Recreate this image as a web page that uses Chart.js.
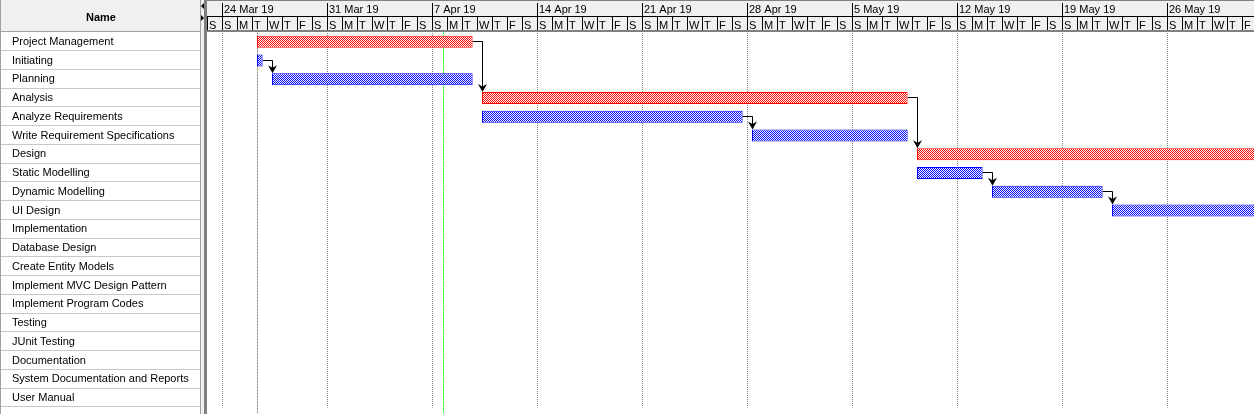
<!DOCTYPE html>
<html><head><meta charset="utf-8">
<script src="https://cdn.jsdelivr.net/npm/chart.js@4/dist/chart.umd.min.js"></script>
<style>html,body{margin:0;padding:0;background:#fff;overflow:hidden}canvas{display:block}</style>
</head><body>
<canvas id="c" width="1254" height="414"></canvas>
<script>
// ---- data ----
const taskNames = ['Project Management','Initiating','Planning','Analysis','Analyze Requirements',
  'Write Requirement Specifications','Design','Static Modelling','Dynamic Modelling','UI Design',
  'Implementation','Database Design','Create Entity Models','Implement MVC Design Pattern',
  'Implement Program Codes','Testing','JUnit Testing','Documentation',
  'System Documentation and Reports','User Manual'];
const taskStarts = ['2019-03-26T08:00','2019-03-26T08:00','2019-03-27T08:00','2019-04-10T08:00','2019-04-10T08:00',
  '2019-04-28T08:00','2019-05-09T08:00','2019-05-09T08:00','2019-05-14T08:00','2019-05-22T08:00',
  null,null,null,null,null,null,null,null,null,null];
const taskEnds = ['2019-04-09T17:00','2019-03-26T17:00','2019-04-09T17:00','2019-05-08T17:00','2019-04-27T17:00',
  '2019-05-08T17:00','2019-06-05T17:00','2019-05-13T17:00','2019-05-21T17:00','2019-06-05T17:00',
  null,null,null,null,null,null,null,null,null,null];
const summaryTasks = [true,false,false,true,false,false,true,false,false,false,
  true,false,false,false,false,true,false,true,false,false];
const links = [[0,3],[1,2],[4,5],[3,6],[7,8],[8,9]];
const timelineStart = '2019-03-23T00:00';
const timelineEnd = '2019-05-31T19:12';
const weekDates = ['2019-03-24T00:00','2019-03-31T00:00','2019-04-07T00:00','2019-04-14T00:00','2019-04-21T00:00',
  '2019-04-28T00:00','2019-05-05T00:00','2019-05-12T00:00','2019-05-19T00:00','2019-05-26T00:00'];
const weekLabels = ['24 Mar 19','31 Mar 19','7 Apr 19','14 Apr 19','21 Apr 19',
  '28 Apr 19','5 May 19','12 May 19','19 May 19','26 May 19'];
const weekdayLetters = ['S','M','T','W','T','F','S'];
const projectStartDate = '2019-03-26T08:00';
const statusDate = '2019-04-07T18:30';

// ---- helpers ----
const t0 = Date.parse(timelineStart + 'Z');
const toDay = s => (Date.parse(s + 'Z') - t0) / 864e5;
const maxDay = toDay(timelineEnd);
const dayValues = [];
for (let d = 0; d < Math.ceil(maxDay); d++) dayValues.push(d);
const dayLetter = d => weekdayLetters[new Date(t0 + d * 864e5).getUTCDay()];

const canvas = document.getElementById('c');
const ctx0 = canvas.getContext('2d');
function checker(color) {
  const c = document.createElement('canvas'); c.width = 2; c.height = 2;
  const g = c.getContext('2d');
  g.fillStyle = '#fff'; g.fillRect(0, 0, 2, 2);
  g.fillStyle = color; g.fillRect(0, 0, 1, 1); g.fillRect(1, 1, 1, 1);
  return ctx0.createPattern(c, 'repeat');
}
const redPat = checker('#ff0000');
const bluePat = checker('#0000ff');
const FONT = 'Liberation Sans';

const ganttFrame = {
  id: 'ganttFrame',
  beforeDraw(chart) {
    const ctx = chart.ctx;
    const {left, right} = chart.chartArea;
    const ys = chart.scales.y, xw = chart.scales.x, xd = chart.scales.x2;
    const W = chart.width, H = chart.height;
    const tableW = left - 7;
    ctx.save();
    ctx.fillStyle = '#fff'; ctx.fillRect(0, 0, W, H);
    // header backgrounds
    ctx.fillStyle = '#f0f0f0';
    ctx.fillRect(0, 0, tableW, 31);
    ctx.fillRect(left, 0, right - left, 30);
    // splitter
    ctx.fillRect(tableW, 0, 7, H);
    ctx.fillStyle = '#808080'; ctx.fillRect(tableW + 4, 0, 3, H);
    ctx.fillStyle = '#a0a0a0'; ctx.fillRect(tableW, 0, 1, H);
    // splitter arrows
    ctx.fillStyle = '#000';
    ctx.beginPath(); ctx.moveTo(tableW + 1, 6); ctx.lineTo(tableW + 4, 3); ctx.lineTo(tableW + 4, 9); ctx.closePath(); ctx.fill();
    ctx.beginPath(); ctx.moveTo(tableW + 4, 18); ctx.lineTo(tableW + 1, 15); ctx.lineTo(tableW + 1, 21); ctx.closePath(); ctx.fill();
    // table
    ctx.fillStyle = '#a0a0a0'; ctx.fillRect(0, 31, tableW, 1);
    ctx.fillRect(0, 0, 1, H);
    ctx.strokeStyle = '#c8c8c8'; ctx.lineWidth = 1;
    ctx.beginPath();
    for (let i = 1; i <= taskNames.length; i++) {
      const y = Math.round(ys.getPixelForValue(i) - 10.5) + 0.5;
      ctx.moveTo(1, y); ctx.lineTo(tableW, y);
    }
    ctx.stroke();
    ctx.fillStyle = '#000';
    ctx.font = 'bold 11px "' + FONT + '"';
    ctx.textAlign = 'center'; ctx.textBaseline = 'middle';
    ctx.fillText('Name', tableW / 2 + 1, 17.5);
    // timeline header lines
    ctx.fillStyle = '#808080'; ctx.fillRect(tableW + 4, 0, right - tableW - 4, 1);
    ctx.fillStyle = '#000'; ctx.fillRect(left, 16, right - left, 1);
    ctx.fillStyle = '#808080'; ctx.fillRect(tableW + 4, 30, right - tableW - 4, 2);
    ctx.strokeStyle = '#000';
    ctx.beginPath();
    xd.ticks.forEach(t => {
      const x = Math.round(xd.getPixelForValue(t.value)) + 0.5;
      ctx.moveTo(x, 17); ctx.lineTo(x, 30);
    });
    xw.ticks.forEach(t => {
      const x = Math.round(xw.getPixelForValue(t.value)) + 0.5;
      ctx.moveTo(x, 3); ctx.lineTo(x, 17);
    });
    ctx.stroke();
    ctx.restore();
  },
  beforeDatasetsDraw(chart) {
    const ctx = chart.ctx; const {top} = chart.chartArea;
    const xs = chart.scales.x;
    ctx.save(); ctx.lineWidth = 1;
    let x = Math.round(xs.getPixelForValue(toDay(projectStartDate))) + 0.5;
    ctx.strokeStyle = '#808080'; ctx.setLineDash([2, 1]);
    ctx.beginPath(); ctx.moveTo(x, top); ctx.lineTo(x, chart.height); ctx.stroke();
    x = Math.floor(xs.getPixelForValue(toDay(statusDate))) + 0.5;
    ctx.strokeStyle = '#00ff00'; ctx.setLineDash([2, 1]);
    ctx.beginPath(); ctx.moveTo(x, top); ctx.lineTo(x, chart.height); ctx.stroke();
    ctx.restore();
  },
  afterDatasetsDraw(chart) {
    const ctx = chart.ctx; const meta = chart.getDatasetMeta(0);
    ctx.save();
    ctx.beginPath(); ctx.rect(chart.chartArea.left, chart.chartArea.top, chart.chartArea.right - chart.chartArea.left, chart.height); ctx.clip();
    ctx.strokeStyle = '#000'; ctx.fillStyle = '#000'; ctx.lineWidth = 1;
    links.forEach(([a, b]) => {
      const ea = meta.data[a], eb = meta.data[b];
      const x0 = Math.max(ea.x, ea.base);
      const y0 = Math.round(ea.y) - 0.5;
      const x1 = Math.round(Math.min(eb.x, eb.base)) + 0.5;
      const tip = eb.y - eb.height / 2;
      ctx.beginPath(); ctx.moveTo(x0, y0); ctx.lineTo(x1, y0); ctx.lineTo(x1, tip - 4); ctx.stroke();
      ctx.beginPath();
      ctx.moveTo(x1 - 4.5, tip - 8); ctx.lineTo(x1, tip - 5.5); ctx.lineTo(x1 + 4.5, tip - 8); ctx.lineTo(x1, tip);
      ctx.closePath(); ctx.fill();
    });
    ctx.restore();
  }
};

new Chart(canvas, {
  type: 'bar',
  data: {
    labels: taskNames,
    datasets: [{
      data: taskStarts.map((s, i) => (s && taskEnds[i]) ? [toDay(s), toDay(taskEnds[i])] : null),
      backgroundColor: summaryTasks.map(s => s ? redPat : bluePat),
      borderColor: summaryTasks.map(s => s ? '#ff0000' : '#0000ff'),
      borderWidth: 1,
      borderSkipped: false,
      barThickness: 12,
      inflateAmount: 0
    }]
  },
  options: {
    indexAxis: 'y',
    responsive: false,
    animation: false,
    devicePixelRatio: 1,
    events: [],
    layout: { autoPadding: false, padding: { left: 12, top: 0, right: 0, bottom: 1.5 } },
    plugins: { legend: { display: false }, tooltip: { enabled: false } },
    scales: {
      x: {
        type: 'linear', position: 'top', min: 0, max: maxDay, bounds: 'data', weight: 1,
        afterBuildTicks: s => { s.ticks = weekDates.map(d => ({ value: toDay(d) })); },
        afterFit: s => { s.height = 17; },
        ticks: { autoSkip: false, maxRotation: 0, minRotation: 0, align: 'start', labelOffset: 2, padding: 0,
          color: '#000', font: { family: FONT, size: 11 }, callback: (v, i) => weekLabels[i] },
        grid: { drawTicks: false, drawOnChartArea: true, color: '#808080', lineWidth: 1 },
        border: { display: false, dash: [1, 1] }
      },
      x2: {
        type: 'linear', position: 'top', min: 0, max: maxDay, bounds: 'data', weight: 0,
        afterBuildTicks: s => { s.ticks = dayValues.map(v => ({ value: v })); },
        afterFit: s => { s.height = 15.5; },
        ticks: { autoSkip: false, maxRotation: 0, minRotation: 0, align: 'start', labelOffset: 2, padding: 0,
          color: '#000', font: { family: FONT, size: 11 }, callback: (v) => dayLetter(v) },
        grid: { display: false, drawTicks: false },
        border: { display: false }
      },
      y: {
        type: 'category', position: 'left',
        afterFit: s => { s.width = 195; },
        grid: { display: false, drawTicks: false },
        border: { display: false },
        ticks: { crossAlign: 'far', autoSkip: false, labelOffset: 0, padding: 0,
          color: '#000', font: { family: FONT, size: 11 } }
      }
    }
  },
  plugins: [ganttFrame]
});
</script>
</body></html>
